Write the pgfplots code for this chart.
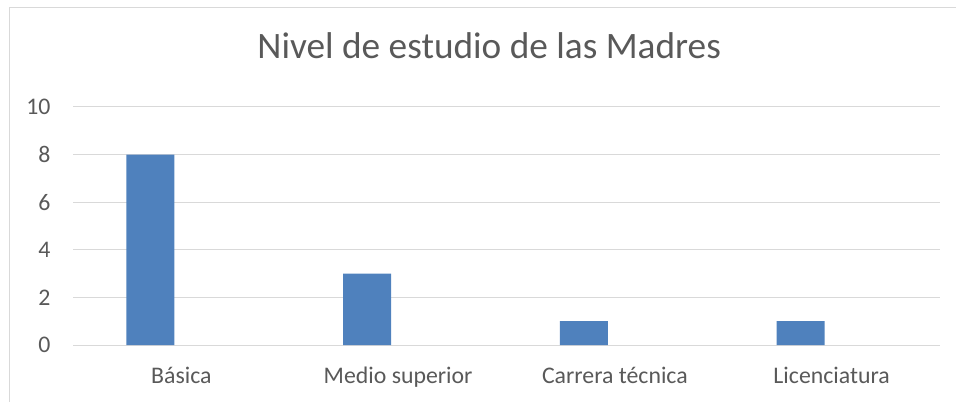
\documentclass[border=0pt]{standalone}
\usepackage{pgfplots}
\pgfplotsset{compat=1.18}
\usepackage{fontspec}
\setmainfont{Carlito}
\definecolor{barblue}{HTML}{4F81BD}
\definecolor{gridgray}{HTML}{D9D9D9}
\definecolor{txtgray}{HTML}{595959}
\begin{document}
\begin{tikzpicture}
\useasboundingbox (0,0) rectangle (956bp,402bp);
\draw[gridgray, line width=1bp] (9bp,-5bp) -- (9bp,394bp) -- (965bp,394bp);
\begin{axis}[
  at={(73bp,57bp)}, anchor=south west,
  scale only axis, width=867bp, height=238bp,
  xmin=-0.5, xmax=3.5, ymin=0, ymax=10,
  ytick={0,2,4,6,8,10},
  xtick={0,1,2,3},
  xticklabels={Básica, Medio superior, Carrera técnica, Licenciatura},
  axis line style={draw=none},
  major tick length=0pt,
  ymajorgrids, grid style={gridgray, line width=1bp},
  /pgf/number format/assume math mode=true,
  ticklabel style={font=\fontsize{23.8bp}{28bp}\selectfont, text=txtgray},
  yticklabel style={anchor=east, xshift=-19bp},
  xticklabel style={anchor=base, yshift=-38bp},
  title={Nivel de estudio de las Madres},
  title style={at={(0.48,1)}, anchor=base, yshift=43bp, font=\fontsize{37.3bp}{44bp}\selectfont, text=txtgray},
  clip=false,
]
\draw[gridgray, line width=1bp] (axis cs:-0.5,0) -- (axis cs:3.5,0);
\addplot[ybar, bar width=48bp, bar shift=-31bp, fill=barblue, draw=none] coordinates {(0,8) (1,3) (2,1) (3,1)};
\end{axis}
\end{tikzpicture}
\end{document}
